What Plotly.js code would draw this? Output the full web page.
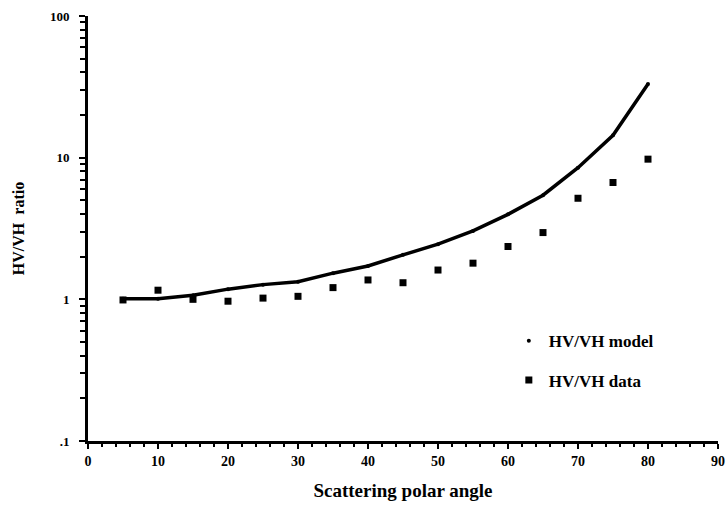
<!DOCTYPE html>
<html>
<head>
<meta charset="utf-8">
<script src="https://cdn.plot.ly/plotly-3.0.1.min.js"></script>
<style>html,body{margin:0;padding:0;background:#fff;}#chart{width:727px;height:509px;}</style>
</head>
<body>
<div id="chart"></div>
<script>
// Scattering polar angle (deg)
const angles = [5, 10, 15, 20, 25, 30, 35, 40, 45, 50, 55, 60, 65, 70, 75, 80];
// HV/VH model (line)
const modelRatio = [1.01, 1.01, 1.07, 1.18, 1.27, 1.33, 1.53, 1.72, 2.06, 2.45, 3.04, 3.98, 5.43, 8.5, 14.4, 33.1];
// HV/VH data (points)
const dataRatio = [0.99, 1.16, 1.0, 0.97, 1.02, 1.05, 1.21, 1.37, 1.31, 1.61, 1.80, 2.36, 2.96, 5.17, 6.68, 9.76];
// axis ticks
const xTickVals = [0, 10, 20, 30, 40, 50, 60, 70, 80, 90];
const yTickVals = [0.1, 1, 10, 100];
const yTickText = ['.1', '1', '10', '100'];
const yMinorVals = [0.2,0.3,0.4,0.5,0.6,0.7,0.8,0.9,2,3,4,5,6,7,8,9,20,30,40,50,60,70,80,90];

const serif = 'Liberation Serif, Times New Roman, serif';

const traces = [
  {x: angles, y: modelRatio, mode: 'lines', line: {color: '#000', width: 3.5},
   showlegend: false, hoverinfo: 'skip', legendgroup: 'm'},
  {x: angles, y: modelRatio, mode: 'markers', name: 'HV/VH model', legendgroup: 'm',
   marker: {color: '#000', size: 4, symbol: 'circle'}},
  {x: angles, y: dataRatio, mode: 'markers', name: 'HV/VH data', legendgroup: 'd',
   marker: {color: '#000', size: 7, symbol: 'square'}}
];

const layout = {
  width: 727, height: 509,
  margin: {l: 88, r: 9, t: 16, b: 68},
  paper_bgcolor: '#fff', plot_bgcolor: '#fff',
  font: {family: serif, color: '#000', size: 12, weight: 'bold'},
  showlegend: true,
  legend: {x: 0.668, y: 0.277, xanchor: 'left', yanchor: 'top', bgcolor: 'rgba(0,0,0,0)',
    traceorder: 'grouped', tracegroupgap: 14,
    font: {family: serif, size: 17, color: '#000', weight: 'bold'}},
  xaxis: {
    range: [0, 90], tickmode: 'array', tickvals: xTickVals,
    showgrid: false, zeroline: false,
    showline: true, linewidth: 3, linecolor: '#000',
    ticks: 'outside', ticklen: 5, tickwidth: 2, tickcolor: '#000',
    minor: {dtick: 2, tick0: 0, ticks: 'outside', ticklen: 3, tickwidth: 2, tickcolor: '#000', showgrid: false},
    tickfont: {family: serif, size: 14, color: '#000', weight: 'bold'},
    title: {text: 'Scattering polar angle', standoff: 16,
      font: {family: serif, size: 19, color: '#000', weight: 'bold'}}
  },
  yaxis: {
    type: 'log', range: [-1, 2], tickmode: 'array', tickvals: yTickVals, ticktext: yTickText,
    showgrid: false, zeroline: false,
    showline: true, linewidth: 3, linecolor: '#000',
    ticks: 'outside', ticklen: 6, tickwidth: 2, tickcolor: '#000',
    ticklabelstandoff: 7,
    minor: {tickmode: 'array', tickvals: yMinorVals, ticks: 'outside', ticklen: 5, tickwidth: 2, tickcolor: '#000', showgrid: false},
    tickfont: {family: serif, size: 13, color: '#000', weight: 'bold'},
    title: {text: 'HV/VH  ratio', standoff: 22,
      font: {family: serif, size: 16, color: '#000', weight: 'bold'}}
  }
};

Plotly.newPlot('chart', traces, layout, {displayModeBar: false, staticPlot: true});
</script>
</body>
</html>
